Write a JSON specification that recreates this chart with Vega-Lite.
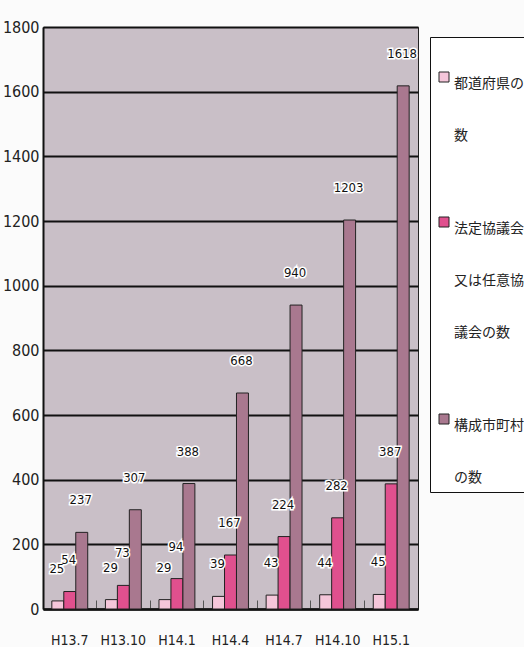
{
  "$schema": "https://vega.github.io/schema/vega-lite/v6.json",
  "width": 375,
  "height": 582,
  "padding": {"left": 2, "top": 19, "right": 0, "bottom": 0},
  "background": "#fbfbfb",
  "config": {
    "view": {"fill": "#c9bfc7", "stroke": "#222222", "strokeWidth": 1},
    "font": "DejaVu Sans Condensed"
  },
  "data": {
    "values": [
      {"date": "H13.7", "series": "都道府県の数", "value": 25},
      {"date": "H13.7", "series": "法定協議会又は任意協議会の数", "value": 54},
      {"date": "H13.7", "series": "構成市町村の数", "value": 237},
      {"date": "H13.10", "series": "都道府県の数", "value": 29},
      {"date": "H13.10", "series": "法定協議会又は任意協議会の数", "value": 73},
      {"date": "H13.10", "series": "構成市町村の数", "value": 307},
      {"date": "H14.1", "series": "都道府県の数", "value": 29},
      {"date": "H14.1", "series": "法定協議会又は任意協議会の数", "value": 94},
      {"date": "H14.1", "series": "構成市町村の数", "value": 388},
      {"date": "H14.4", "series": "都道府県の数", "value": 39},
      {"date": "H14.4", "series": "法定協議会又は任意協議会の数", "value": 167},
      {"date": "H14.4", "series": "構成市町村の数", "value": 668},
      {"date": "H14.7", "series": "都道府県の数", "value": 43},
      {"date": "H14.7", "series": "法定協議会又は任意協議会の数", "value": 224},
      {"date": "H14.7", "series": "構成市町村の数", "value": 940},
      {"date": "H14.10", "series": "都道府県の数", "value": 44},
      {"date": "H14.10", "series": "法定協議会又は任意協議会の数", "value": 282},
      {"date": "H14.10", "series": "構成市町村の数", "value": 1203},
      {"date": "H15.1", "series": "都道府県の数", "value": 45},
      {"date": "H15.1", "series": "法定協議会又は任意協議会の数", "value": 387},
      {"date": "H15.1", "series": "構成市町村の数", "value": 1618}
    ]
  },
  "encoding": {
    "x": {
      "field": "date",
      "type": "nominal",
      "sort": ["H13.7", "H13.10", "H14.1", "H14.4", "H14.7", "H14.10", "H15.1"],
      "scale": {"paddingInner": 0.33, "paddingOuter": 0.165},
      "axis": {
        "title": null,
        "labelAngle": 0,
        "labelFont": "DejaVu Sans Condensed",
        "labelFontSize": 14,
        "labelColor": "#222222",
        "labelPadding": 33,
        "domainColor": "#111111",
        "domainWidth": 2.5,
        "ticks": true,
        "tickSize": -9,
        "tickColor": "#555555",
        "tickWidth": 1,
        "bandPosition": -0.245
      }
    },
    "xOffset": {
      "field": "series",
      "type": "nominal",
      "sort": ["都道府県の数", "法定協議会又は任意協議会の数", "構成市町村の数"]
    },
    "y": {
      "field": "value",
      "type": "quantitative",
      "scale": {"domain": [0, 1800], "nice": false},
      "axis": {
        "title": null,
        "values": [0, 200, 400, 600, 800, 1000, 1200, 1400, 1600, 1800],
        "format": "d",
        "grid": true,
        "gridColor": "#111111",
        "gridWidth": 2,
        "domainColor": "#111111",
        "domainWidth": 2,
        "ticks": false,
        "labelFont": "DejaVu Sans Condensed",
        "labelFontSize": 16,
        "labelColor": "#222222",
        "labelPadding": 4
      }
    }
  },
  "layer": [
    {
      "mark": {"type": "bar", "stroke": "#222222", "strokeWidth": 1},
      "encoding": {
        "color": {
          "field": "series",
          "type": "nominal",
          "scale": {
            "domain": ["都道府県の数", "法定協議会又は任意協議会の数", "構成市町村の数"],
            "range": ["#f5c6da", "#e0508e", "#a9788f"]
          },
          "legend": {
            "title": " ",
            "titleFontSize": 8,
            "titlePadding": 18,
            "orient": "none",
            "legendX": 387,
            "legendY": 10,
            "fillColor": "#ffffff",
            "strokeColor": "#111111",
            "padding": 7,
            "symbolType": "square",
            "symbolSize": 100,
            "symbolStrokeColor": "#222222",
            "symbolStrokeWidth": 1,
            "symbolOpacity": 1,
            "labelFont": "Noto Sans CJK JP",
            "labelFontSize": 14,
            "labelOffset": 3,
            "labelColor": "#222222",
            "labelLimit": 200,
            "labelBaseline": "top",
            "rowPadding": 72,
            "labelExpr": "datum.label === '都道府県の数' ? ['都道府県の', '数'] : datum.label === '法定協議会又は任意協議会の数' ? ['法定協議会', '又は任意協', '議会の数'] : ['構成市町村', 'の数']",
            "encode": {"labels": {"update": {"lineHeight": {"value": 52}}}}
          }
        }
      }
    },
    {
      "mark": {"type": "text", "baseline": "middle", "dy": -32, "dx": -1, "fontSize": 13, "font": "DejaVu Sans Condensed", "stroke": "#ffffff", "strokeWidth": 3, "fill": "#ffffff"},
      "encoding": {"text": {"field": "value", "type": "quantitative"}}
    },
    {
      "mark": {"type": "text", "baseline": "middle", "dy": -32, "dx": -1, "fontSize": 13, "font": "DejaVu Sans Condensed", "fill": "#111111"},
      "encoding": {"text": {"field": "value", "type": "quantitative"}}
    }
  ]
}
